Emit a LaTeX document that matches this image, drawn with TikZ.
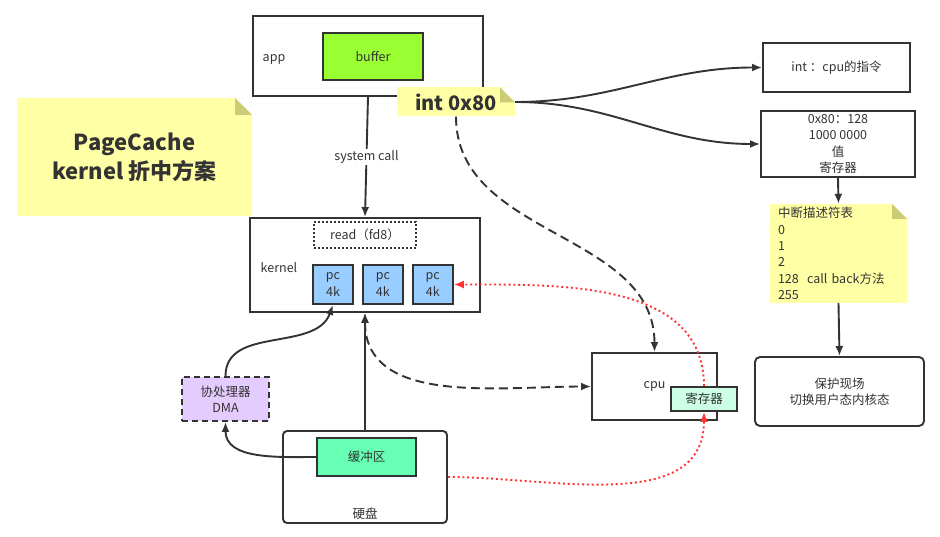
\documentclass[tikz,border=0pt]{standalone}
\usepackage{fontspec}
\setmainfont{Noto Sans CJK SC}
\usepackage{xcolor}
\usepackage{tikz}
\usetikzlibrary{shapes,arrows.meta,positioning,calc}

\definecolor{ink}{HTML}{333333}
\definecolor{buffergreen}{HTML}{99FF33}
\definecolor{pcblue}{HTML}{99CCFF}
\definecolor{regmint}{HTML}{CCFFE6}
\definecolor{bufmint}{HTML}{66FFB3}
\definecolor{dmalilac}{HTML}{E5CCFF}
\definecolor{noteyellow}{HTML}{FFFFA6}
\definecolor{notefold}{HTML}{CCCC77}
\definecolor{hotred}{HTML}{FF3333}

\begin{document}
\begin{tikzpicture}[x=1pt, y=-1pt, font=\fontsize{12.5}{16.3}\selectfont,
    box/.style={draw=ink, line width=1.9pt, inner sep=0pt, align=center, text=ink},
    stickynote/.style={fill=noteyellow, inner sep=0pt, align=center, text=ink, path picture={
        \fill[white] ([xshift=-#1]path picture bounding box.north east) -- (path picture bounding box.north east) -- ([yshift=-#1]path picture bounding box.north east) -- cycle;
        \fill[notefold] ([xshift=-#1]path picture bounding box.north east) -- ([xshift=-#1,yshift=-#1]path picture bounding box.north east) -- ([yshift=-#1]path picture bounding box.north east) -- cycle;}},
    label text/.style={text=ink},
    link/.style={draw=ink, line width=1.9pt, -{Latex[length=10pt,width=8pt]}},
    longdash/.style={dash pattern=on 9pt off 5pt},
    redlink/.style={draw=hotred, line width=1.9pt, dash pattern=on 2pt off 2.8pt, -{Latex[length=10pt,width=8pt]}}]
    \useasboundingbox [fill=white] (0,0) rectangle (940,537);

    % note on the left
    \node [stickynote=17pt, minimum width=235, minimum height=118, font=\bfseries\fontsize{22}{29}\selectfont] (title) at (134.5,157) {PageCache\\kernel 折中方案};

    % user space
    \node [box, minimum width=230, minimum height=80] (app) at (368,56) {};
    \node [label text] (applbl) at (274,59) {app};
    \node [box, fill=buffergreen, minimum width=100, minimum height=47] (buffer) at (373,56.5) {\raisebox{-2pt}{buffer}};
    \node [stickynote=15pt, minimum width=118, minimum height=29, font=\bfseries\fontsize{20}{24}\selectfont] (i80) at (456,102) {int 0x80};

    % kernel
    \node [box, minimum width=230, minimum height=94] (kernel) at (365,265) {};
    \node [label text] (kernellbl) at (279,268) {kernel};
    \node [box, dash pattern=on 2pt off 2pt, minimum width=102, minimum height=26] (read) at (365,235) {read（fd8）};
    \node [box, fill=pcblue, minimum width=40, minimum height=39, font=\fontsize{12.5}{17}\selectfont] (pc1) at (333,284.5) {pc\\4k};
    \node [box, fill=pcblue, minimum width=40, minimum height=39, font=\fontsize{12.5}{17}\selectfont, right=8pt of pc1] (pc2) {pc\\4k};
    \node [box, fill=pcblue, minimum width=40, minimum height=39, font=\fontsize{12.5}{17}\selectfont, right=8pt of pc2] (pc3) {pc\\4k};

    % hardware
    \node [box, minimum width=125, minimum height=67] (cpu) at (654.5,386.5) {\raisebox{-3pt}{cpu}};
    \node [box, fill=regmint, minimum width=66, minimum height=24] (reg) at (704,399) {寄存器};
    \node [box, rounded corners=4pt, minimum width=164, minimum height=92] (disk) at (365,477) {};
    \node [label text] (disklbl) at (365,514) {硬盘};
    \node [box, fill=bufmint, minimum width=99, minimum height=38] (buf) at (366.5,457) {缓冲区};
    \node [box, fill=dmalilac, dash pattern=on 6pt off 4pt, minimum width=87, minimum height=44] (dma) at (225.5,399) {协处理器\\DMA};

    % interrupt side
    \node [box, minimum width=147, minimum height=49] (b1) at (836.5,67.5) {int ：cpu的指令};
    \node [box, minimum width=154, minimum height=66] (b2) at (838,144) {0x80：128\\1000 0000\\值\\寄存器};
    \node [stickynote=15pt, minimum width=137, minimum height=99, text width=121pt, inner xsep=8pt, align=left] (idt) at (838.5,253.5) {中断描述符表\\0\\1\\2\\128\ \ call back方法\\255};
    \node [box, rounded corners=5pt, minimum width=169, minimum height=69] (b4) at (839.5,391.5) {保护现场\\切换用户态内核态};

    \draw [link] (app.south) -- node [fill=white, inner sep=2pt, text=ink] {system call} (kernel.north);
    \draw [link] (i80.east) to[out=0, in=180] (b1.west);
    \draw [link] (i80.east) to[out=0, in=180] (b2.west);
    \draw [link] (b2.south) -- (idt.south |- idt.north);
    \draw [link] (idt.south) -- (b4.north);
    \draw [link, longdash] (i80.south) to[out=-90, in=90] (cpu.north);
    \draw [link, longdash, {Latex[length=10pt,width=8pt]}-{Latex[length=10pt,width=8pt]}] (kernel.south) to[out=-90, in=180] (cpu.west);
    \draw [link] (disk.north) -- (kernel.south);
    \draw [link] (dma.north) to[out=90, in=-110] (pc1.south);
    \draw [link] (buf.west) to[out=180, in=-90] (dma.south);
    \draw [redlink] (disk.east) to[out=0, in=-90] (reg.south);
    \draw [redlink] (reg.north) to[out=90, in=0] (pc3.east);
\end{tikzpicture}
\end{document}
